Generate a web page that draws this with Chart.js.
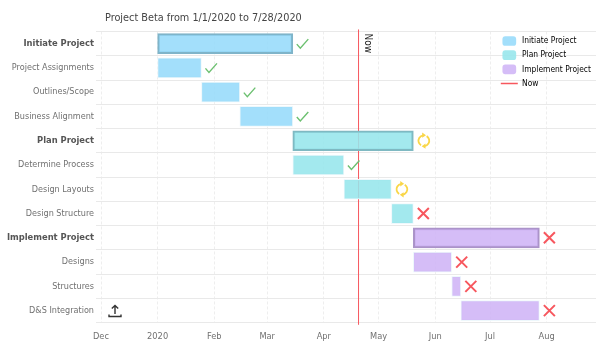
<!DOCTYPE html>
<html>
<head>
<meta charset="utf-8">
<title>Project Beta</title>
<script src="https://cdn.jsdelivr.net/npm/chart.js@4"></script>
<style>
  html, body { margin: 0; padding: 0; background: #fff; }
  #wrap { position: relative; width: 604px; height: 357px; overflow: hidden; }
  #export-icon { position: absolute; left: 108px; top: 304px; }
</style>
</head>
<body>
<div id="wrap">
  <canvas id="gantt" width="604" height="357"></canvas>
  <svg id="export-icon" width="14" height="14" viewBox="0 0 14 14" fill="none" stroke="#333" stroke-width="1.4">
    <path d="M7 10V1.5M3.8 4.6L7 1.5l3.2 3.1M1 10.5v2h12v-2"/>
  </svg>
</div>
<script>
const chartTitle = 'Project Beta from 1/1/2020 to 7/28/2020';
const tasks = ['Initiate Project', 'Project Assignments', 'Outlines/Scope', 'Business Alignment',
  'Plan Project', 'Determine Process', 'Design Layouts', 'Design Structure',
  'Implement Project', 'Designs', 'Structures', 'D&S Integration'];
const taskStarts = ['2020-01-01', '2020-01-01', '2020-01-25', '2020-02-15',
  '2020-03-15', '2020-03-15', '2020-04-12', '2020-05-08',
  '2020-05-20', '2020-05-20', '2020-06-10', '2020-06-15'];
const taskEnds = ['2020-03-15', '2020-01-25', '2020-02-15', '2020-03-15',
  '2020-05-20', '2020-04-12', '2020-05-08', '2020-05-20',
  '2020-07-28', '2020-06-10', '2020-06-15', '2020-07-28'];
const taskPhases = [0, 0, 0, 0, 1, 1, 1, 1, 2, 2, 2, 2];
const taskStatus = ['done', 'done', 'done', 'done', 'active', 'done', 'active', 'late', 'late', 'late', 'late', 'late'];
const summaryRows = ['Initiate Project', 'Plan Project', 'Implement Project'];
const phaseNames = ['Initiate Project', 'Plan Project', 'Implement Project'];
const phaseFill = ['rgba(150,219,250,.88)', 'rgba(150,230,236,.88)', 'rgba(207,180,246,.88)'];
const phaseEdge = ['#7fb4c9', '#7fb9c2', '#ab93c9'];
const monthDates = ['2019-12-01', '2020-01-01', '2020-02-01', '2020-03-01', '2020-04-01',
  '2020-05-01', '2020-06-01', '2020-07-01', '2020-08-01'];
const monthLabels = ['Dec', '2020', 'Feb', 'Mar', 'Apr', 'May', 'Jun', 'Jul', 'Aug'];
const axisStart = '2019-12-01';
const axisEnd = '2020-08-28';
const nowDate = '2020-04-20';
const nowLabel = 'Now';

const FONT = '"DejaVu Sans Condensed", "DejaVu Sans", sans-serif';
const NOW_COLOR = '#f7575e';
const ms = s => Date.parse(s + 'T00:00:00Z');

function drawStatus(ctx, kind, x, y) {
  ctx.save();
  ctx.lineCap = 'butt';
  ctx.beginPath();
  if (kind === 'done') {
    ctx.strokeStyle = '#6cc070';
    ctx.lineWidth = 1.4;
    ctx.moveTo(x - 6, y + 0.5);
    ctx.lineTo(x - 2.5, y + 4.5);
    ctx.lineTo(x + 5.5, y - 4.5);
    ctx.stroke();
  } else if (kind === 'late') {
    ctx.strokeStyle = NOW_COLOR;
    ctx.lineWidth = 2;
    ctx.moveTo(x - 5.5, y - 5.5);
    ctx.lineTo(x + 5.5, y + 5.5);
    ctx.moveTo(x + 5.5, y - 5.5);
    ctx.lineTo(x - 5.5, y + 5.5);
    ctx.stroke();
  } else {
    // two arcs chasing each other, arrow heads top and bottom
    ctx.translate(x + 0.5, y);
    ctx.rotate(-Math.PI / 2);
    ctx.scale(1.2, 1.2);
    ctx.strokeStyle = '#f9d648';
    ctx.fillStyle = '#f9d648';
    ctx.lineWidth = 1.5;
    ctx.arc(0, 0, 4.5, -2.6, -0.1);
    ctx.stroke();
    ctx.beginPath();
    ctx.arc(0, 0, 4.5, 0.55, 3.0);
    ctx.stroke();
    ctx.beginPath();
    ctx.moveTo(2.4, -1.4); ctx.lineTo(6.8, -1.4); ctx.lineTo(4.6, 1.8);
    ctx.closePath(); ctx.fill();
    ctx.beginPath();
    ctx.moveTo(-2.4, 1.4); ctx.lineTo(-6.8, 1.4); ctx.lineTo(-4.6, -1.8);
    ctx.closePath(); ctx.fill();
  }
  ctx.restore();
}

const ganttExtras = {
  id: 'ganttExtras',
  afterLayout(chart) {
    // title and legend sit where the original has them
    chart.titleBlock.left = 105;
    chart.legend.left = 495;
    chart.legend.top = 31;
  },
  beforeDatasetsDraw(chart) {
    const { ctx, chartArea, scales } = chart;
    const x = scales.x.getPixelForValue(ms(nowDate));
    ctx.save();
    ctx.strokeStyle = NOW_COLOR;
    ctx.lineWidth = 1;
    ctx.beginPath();
    ctx.moveTo(x, chartArea.top - 2);
    ctx.lineTo(x, chartArea.bottom + 2);
    ctx.stroke();
    ctx.restore();
  },
  afterDatasetsDraw(chart) {
    const { ctx, chartArea, scales } = chart;
    tasks.forEach((name, i) => {
      drawStatus(ctx, taskStatus[i], scales.x.getPixelForValue(ms(taskEnds[i])) + 10, scales.y.getPixelForValue(i));
    });
    ctx.save();
    ctx.translate(scales.x.getPixelForValue(ms(nowDate)) + 5, chartArea.top + 2);
    ctx.rotate(Math.PI / 2);
    ctx.fillStyle = '#222';
    ctx.font = '10px ' + FONT;
    ctx.textBaseline = 'middle';
    ctx.fillText(nowLabel, 0, -4);
    ctx.restore();
  }
};

new Chart(document.getElementById('gantt'), {
  type: 'bar',
  data: {
    labels: tasks,
    datasets: phaseNames.map((name, p) => ({
      label: name,
      data: tasks.map((t, i) => taskPhases[i] === p ? [ms(taskStarts[i]), ms(taskEnds[i])] : null),
      backgroundColor: phaseFill[p],
      borderColor: c => summaryRows.includes(tasks[c.dataIndex]) ? phaseEdge[p] : '#eef8fc',
      borderWidth: c => summaryRows.includes(tasks[c.dataIndex]) ? 2 : 1,
      borderSkipped: false,
      barThickness: 20,
      grouped: false
    }))
  },
  options: {
    indexAxis: 'y',
    responsive: false,
    animation: false,
    events: [],
    layout: { padding: { left: 0, right: 8, top: 0, bottom: 0 } },
    plugins: {
      title: {
        display: true,
        text: chartTitle,
        align: 'start',
        color: '#444',
        font: { family: FONT, size: 10.8, weight: 'normal' },
        padding: { top: 12, bottom: 6.5 }
      },
      legend: {
        position: 'chartArea',
        align: 'start',
        labels: {
          usePointStyle: true,
          pointStyleWidth: 17,
          boxHeight: 8,
          padding: 5.8,
          color: '#555',
          font: { family: FONT, size: 8.4 },
          generateLabels: () => phaseNames.map((name, p) => ({
            text: name, fillStyle: phaseFill[p], strokeStyle: phaseFill[p], lineWidth: 0, pointStyle: 'rectRounded'
          })).concat([{ text: nowLabel, fillStyle: NOW_COLOR, strokeStyle: NOW_COLOR, lineWidth: 1.5, pointStyle: 'line' }])
        }
      },
      tooltip: { enabled: false }
    },
    scales: {
      x: {
        type: 'linear',
        position: 'bottom',
        min: ms(axisStart),
        max: ms(axisEnd),
        afterBuildTicks: axis => { axis.ticks = monthDates.map(d => ({ value: ms(d) })); },
        afterFit: axis => { axis.height = 34.2; },
        ticks: {
          autoSkip: false,
          maxRotation: 0,
          padding: 8,
          color: '#707070',
          font: { family: FONT, size: 9.2 },
          callback: value => monthLabels[monthDates.findIndex(d => ms(d) === value)]
        },
        grid: { color: '#eeeeee', tickLength: 0, drawTicks: false },
        border: { display: false, dash: [3, 2] }
      },
      y: {
        type: 'category',
        afterFit: axis => { axis.width = 101; },
        ticks: {
          autoSkip: false,
          padding: 2,
          color: c => summaryRows.includes(tasks[c.index]) ? '#555' : '#707070',
          font: c => summaryRows.includes(tasks[c.index])
            ? { family: FONT, size: 9.3, weight: 'bold' }
            : { family: FONT, size: 9, weight: 'normal' }
        },
        border: { display: false },
        grid: { color: '#e9e9e9', tickLength: 5, offset: true }
      }
    }
  },
  plugins: [ganttExtras]
});
</script>
</body>
</html>
